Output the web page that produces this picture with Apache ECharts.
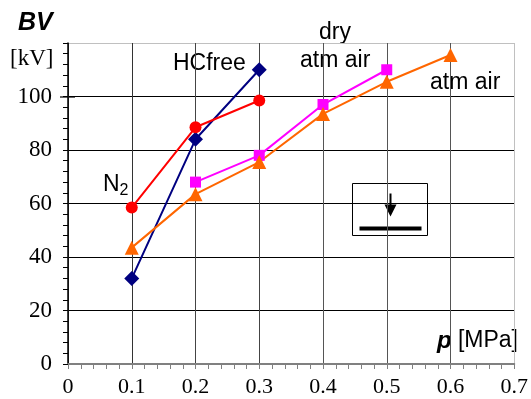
<!DOCTYPE html>
<html>
<head>
<meta charset="utf-8">
<script src="https://cdn.jsdelivr.net/npm/echarts@6/dist/echarts.min.js"></script>
<style>
  html, body { margin: 0; padding: 0; background: #fff; }
  #bv_chart { width: 531px; height: 399px; }
</style>
</head>
<body>
<div id="bv_chart"></div>
<script>
// pressure p [MPa] vs breakdown voltage BV [kV]
var hcfreeP = [0.1, 0.2, 0.3];
var hcfreeBV = [32, 84, 110];

var n2P = [0.1, 0.2, 0.3];
var n2BV = [58.5, 88.5, 98.5];

var dryAirP = [0.2, 0.3, 0.4, 0.5];
var dryAirBV = [68, 78, 97, 110];

var atmAirP = [0.1, 0.2, 0.3, 0.4, 0.5, 0.6];
var atmAirBV = [43.5, 63.5, 75.5, 93.5, 105.5, 115.5];

function pairs(xs, ys) {
  return xs.map(function (x, i) { return [x, ys[i]]; });
}

var myChart = echarts.init(document.getElementById("bv_chart"));

var sansFont = "'Liberation Sans', Arial, sans-serif";
var serifFont = "'Liberation Serif', 'Times New Roman', serif";

function lineSeries(name, data, color, symbol, size) {
  return {
    name: name,
    type: "line",
    data: data,
    symbol: symbol,
    symbolSize: size,
    showAllSymbol: true,
    lineStyle: { color: color, width: 2 },
    itemStyle: { color: color },
    z: 5
  };
}

var option = {
  animation: false,
  grid: { left: 68, right: 12, top: 43, bottom: 35 },
  xAxis: {
    type: "value",
    min: 0,
    max: 0.7,
    interval: 0.1,
    axisLine: { show: true, lineStyle: { color: "#808080", width: 2 } },
    axisTick: { show: true, inside: false, length: 5, lineStyle: { color: "#808080" } },
    minorTick: { show: true, splitNumber: 5, length: 5, lineStyle: { color: "#808080" } },
    axisLabel: {
      margin: 12,
      color: "#000",
      fontFamily: serifFont,
      fontSize: 22,
      formatter: function (v) { return String(+v.toFixed(1)); }
    },
    splitLine: {
      show: true,
      lineStyle: { color: ["#444", "#333", "#444", "#444", "#555", "#555", "#555", "#c0c0c0"], width: 1 }
    }
  },
  yAxis: {
    type: "value",
    min: 0,
    max: 120,
    interval: 20,
    axisLine: { show: true, lineStyle: { color: "#000", width: 1.5 } },
    axisTick: { show: true, inside: false, length: 5, lineStyle: { color: "#000" } },
    minorTick: { show: true, splitNumber: 5, length: 5, lineStyle: { color: "#000" } },
    axisLabel: {
      margin: 16,
      color: "#000",
      fontFamily: serifFont,
      fontSize: 23,
      formatter: function (v) { return v >= 120 ? "" : String(v); }
    },
    splitLine: {
      show: true,
      lineStyle: { color: ["#000", "#000", "#000", "#000", "#000", "#000", "#c0c0c0"], width: 1 }
    }
  },
  series: [
    lineSeries("HCfree", pairs(hcfreeP, hcfreeBV), "#000080", "diamond", 15),
    lineSeries("N2", pairs(n2P, n2BV), "#ff0000", "circle", 12),
    lineSeries("dry atm air", pairs(dryAirP, dryAirBV), "#ff00ff", "rect", 11),
    lineSeries("atm air", pairs(atmAirP, atmAirBV), "#ff6600", "triangle", 14)
  ],
  graphic: [
    { type: "text", left: 18, top: 11, style: { text: "BV", font: "italic bold 25px " + sansFont, fill: "#000" } },
    { type: "text", left: 10, top: 47, style: { text: "[kV]", font: "23px " + serifFont, fill: "#000" } },
    { type: "text", left: 173, top: 52, style: { text: "HCfree", font: "23px " + sansFont, fill: "#000" } },
    { type: "text", left: 319, top: 21, style: { text: "dry", font: "23px " + sansFont, fill: "#000" } },
    { type: "text", left: 300, top: 49, style: { text: "atm air", font: "23px " + sansFont, fill: "#000" } },
    { type: "text", left: 430, top: 71, style: { text: "atm air", font: "23px " + sansFont, fill: "#000" } },
    {
      type: "text", left: 103, top: 173,
      style: {
        text: "{n|N}{s|2}",
        rich: {
          n: { font: "23px " + sansFont, fill: "#000" },
          s: { font: "16px " + sansFont, fill: "#000", padding: [12, 0, 0, 0] }
        }
      }
    },
    {
      type: "text", right: 13, top: 329,
      style: {
        text: "{p|p}{u| [MPa]}",
        rich: {
          p: { font: "italic bold 24px " + sansFont, fill: "#000" },
          u: { font: "23px " + sansFont, fill: "#000" }
        }
      }
    },
    // stray long tick next to the 100 label
    { type: "line", shape: { x1: 60, y1: 97, x2: 75, y2: 97 }, style: { stroke: "#333", lineWidth: 1.5 } },
    // inset: electrode sketch
    {
      type: "group", left: 352, top: 183, z: 10,
      children: [
        { type: "rect", shape: { x: 0, y: 0, width: 75, height: 52 }, style: { fill: "#fff", stroke: "#000", lineWidth: 1 } },
        { type: "line", shape: { x1: 38, y1: 10, x2: 38, y2: 24 }, style: { stroke: "#000", lineWidth: 2 } },
        { type: "polygon", shape: { points: [[32, 21], [44, 21], [38, 33]] }, style: { fill: "#000" } },
        { type: "rect", shape: { x: 7, y: 43, width: 62, height: 4 }, style: { fill: "#000" } }
      ]
    }
  ]
};

myChart.setOption(option);
window.onresize = myChart.resize;
</script>
</body>
</html>
